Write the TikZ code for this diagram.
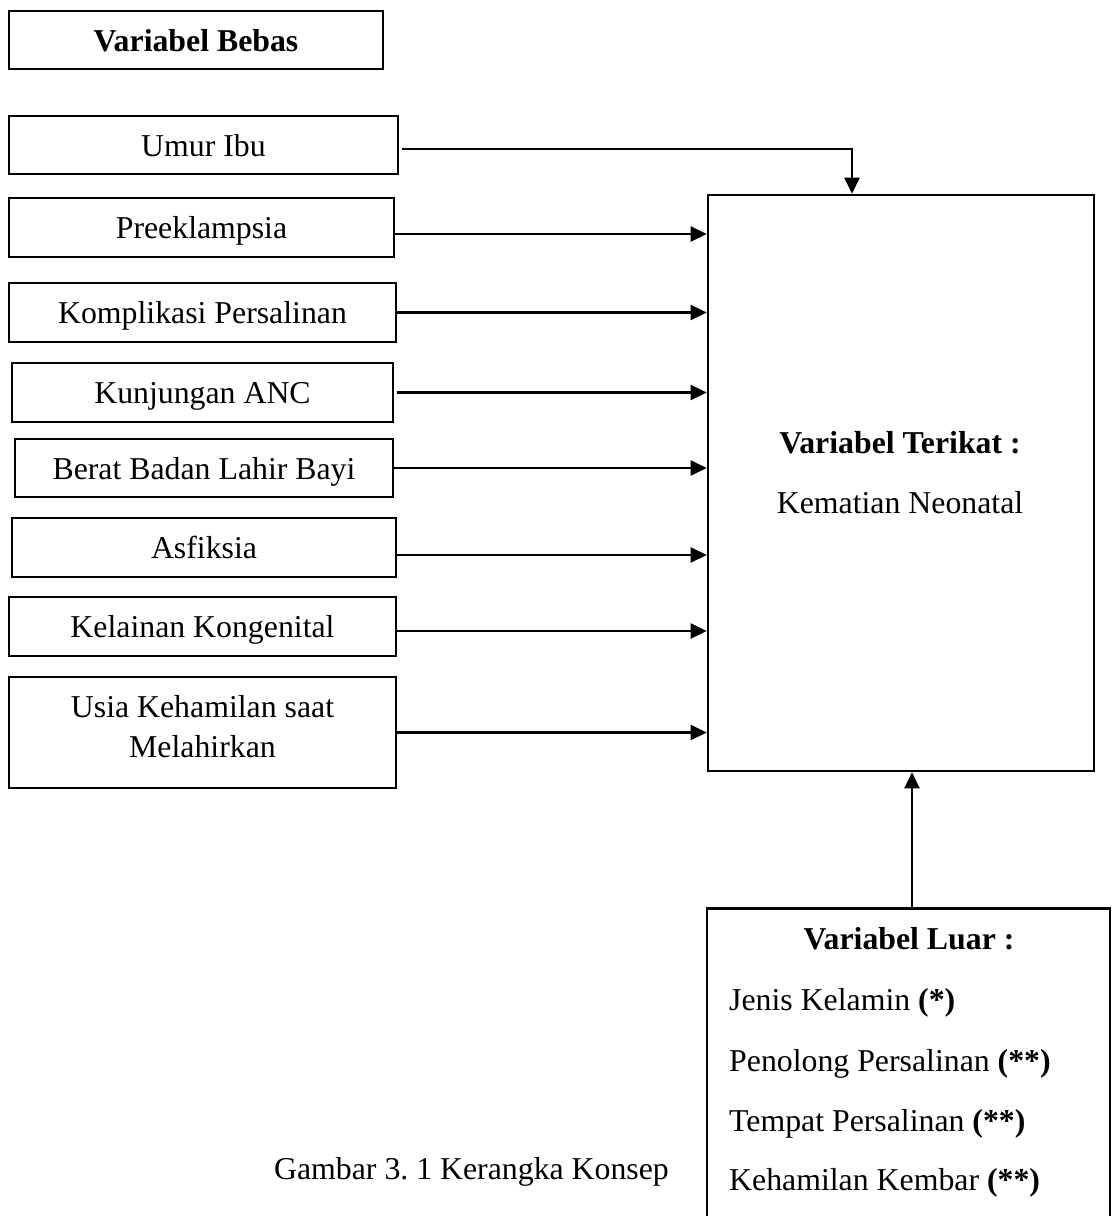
\documentclass[tikz,border=0pt]{standalone}
\usepackage{fontspec}
\setmainfont{Liberation Serif}
\usetikzlibrary{arrows.meta}
\newcommand\fz{\fontsize{31.8pt}{40pt}\selectfont}
\begin{document}
\begin{tikzpicture}[x=1pt,y=-1pt,
  box/.style={draw, line width=2.6pt, inner sep=0pt, text height=22pt, text depth=0pt, font=\fz},
  txt/.style={inner sep=0pt, font=\fz},
  arr/.style={line width=2.4pt, -{Triangle[length=16pt,width=15pt]}},
  thinline/.style={line width=1.5pt}]
\useasboundingbox (0,0) rectangle (1115,1216);
\clip (0,0) rectangle (1115,1216);
\fill[white] (0,0) rectangle (1115,1216);

\node[box, minimum width=374pt, minimum height=58pt] (bebas) at (196,40) {\textbf{Variabel Bebas}};
\node[box, minimum width=389pt, minimum height=58pt] (umur) at (203.5,145) {Umur Ibu};
\node[box, minimum width=385pt, minimum height=59pt] (pre) at (201.5,227.5) {Preeklampsia};
\node[box, minimum width=387pt, minimum height=59pt] (kom) at (202.5,312.5) {Komplikasi Persalinan};
\node[box, minimum width=381pt, minimum height=59pt] (kun) at (202.5,392.5) {Kunjungan ANC};
\node[box, minimum width=378pt, minimum height=58pt] (ber) at (204,468) {Berat Badan Lahir Bayi};
\node[box, minimum width=384pt, minimum height=59pt] (asf) at (204,547.5) {Asfiksia};
\node[box, minimum width=387pt, minimum height=59pt] (kel) at (202.5,626.5) {Kelainan Kongenital};
\node[box, minimum width=387pt, minimum height=111pt] (usia) at (202.5,732.5) {};
\node[txt, anchor=base] (usia1) at (202.5,717) {Usia Kehamilan saat};
\node[txt, anchor=base] (usia2) at (202.5,757) {Melahirkan};

\node[box, minimum width=386pt, minimum height=576pt] (T) at (901,483) {};
\node[txt, anchor=base] (t1) at (900,453) {\textbf{Variabel Terikat :}};
\node[txt, anchor=base] (t2) at (900,513) {Kematian Neonatal};

\node[box, minimum width=403pt, minimum height=330pt, anchor=north] (L) at (908.5,907) {};
\node[txt, anchor=base] (l0) at (909,949) {\textbf{Variabel Luar :}};
\node[txt, anchor=base west] (l1) at (729,1010) {Jenis Kelamin \textbf{(*)}};
\node[txt, anchor=base west] (l2) at (729,1071) {Penolong Persalinan \textbf{(**)}};
\node[txt, anchor=base west] (l3) at (729,1131) {Tempat Persalinan \textbf{(**)}};
\node[txt, anchor=base west] (l4) at (729,1190) {Kehamilan Kembar \textbf{(**)}};

\node[txt, anchor=base] (cap) at (471.5,1179) {Gambar 3.\ 1 Kerangka Konsep};

% connectors
\coordinate (tn) at ([xshift=-49pt]T.north);
\draw[thinline] ([xshift=3pt,yshift=-4pt]umur.east) coordinate (s0) -- (s0 -| tn) coordinate (c0);
\draw[arr] ([yshift=0.7pt]c0) -- (tn);
\draw[arr] ([yshift=-6.5pt]pre.east) coordinate (s1) -- (s1 -| T.west);
\draw[arr] (kom.east) -- (kom.east -| T.west);
\draw[arr] ([xshift=3pt]kun.east) coordinate (s3) -- (s3 -| T.west);
\draw[arr] (ber.east) -- (ber.east -| T.west);
\draw[arr] ([yshift=-7.5pt]asf.east) coordinate (s5) -- (s5 -| T.west);
\draw[arr] ([yshift=-4.5pt]kel.east) coordinate (s6) -- (s6 -| T.west);
\draw[arr] (usia.east) -- (usia.east -| T.west);
\coordinate (ln) at ([xshift=3.5pt]L.north);
\draw[arr] (ln) -- (ln |- T.south);
\end{tikzpicture}
\end{document}
